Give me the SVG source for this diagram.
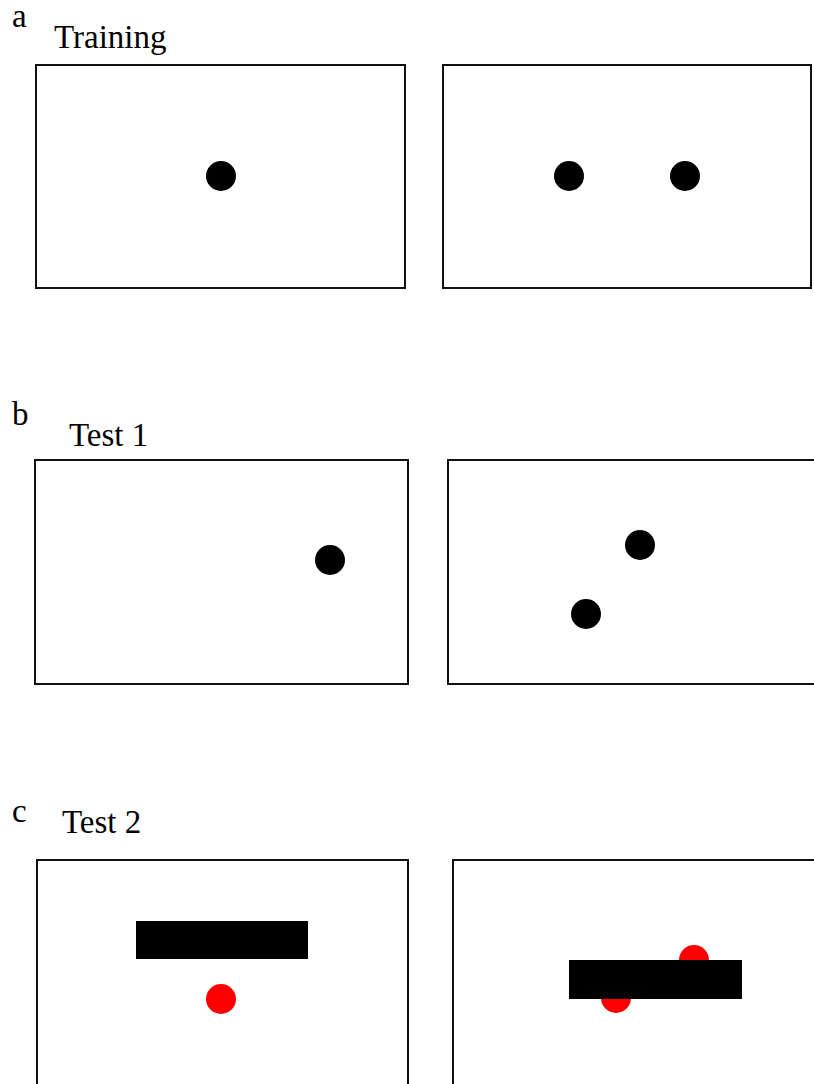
<svg xmlns="http://www.w3.org/2000/svg" width="814" height="1084" viewBox="0 0 814 1084">
<style>
.t{font-family:"Liberation Serif","Times New Roman",serif;font-size:33px;fill:#000}
.box{fill:none;stroke:#111;stroke-width:2}
.dot{fill:#000}
.red{fill:#ff0000}
.bar{fill:#000}
</style>
<rect width="814" height="1084" fill="#fff"/>
<g id="panel-a">
<text class="t" x="12" y="27">a</text>
<text class="t" x="54" y="48">Training</text>
<g id="a1"><rect class="box" x="36" y="65" width="369" height="223"/><circle class="dot" cx="221" cy="176" r="15"/></g>
<g id="a2"><rect class="box" x="443" y="65" width="368" height="223"/><circle class="dot" cx="569" cy="176" r="15"/><circle class="dot" cx="685" cy="176" r="15"/></g>
</g>
<g id="panel-b">
<text class="t" x="12" y="425">b</text>
<text class="t" x="69" y="446">Test 1</text>
<g id="b1"><rect class="box" x="35" y="460" width="373" height="224"/><circle class="dot" cx="330" cy="560" r="15"/></g>
<g id="b2"><rect class="box" x="448" y="460" width="380" height="224"/><circle class="dot" cx="640" cy="545" r="15"/><circle class="dot" cx="586" cy="614" r="15"/></g>
</g>
<g id="panel-c">
<text class="t" x="12" y="822">c</text>
<text class="t" x="62" y="833">Test 2</text>
<g id="c1"><rect class="box" x="37" y="860" width="371" height="240"/><rect class="bar" x="136" y="921" width="172" height="38"/><circle class="red" cx="221" cy="999" r="15"/></g>
<g id="c2"><rect class="box" x="453" y="860" width="380" height="240"/><circle class="red" cx="694" cy="960" r="15"/><circle class="red" cx="616" cy="998" r="15"/><rect class="bar" x="569" y="960" width="173" height="39"/></g>
</g>
</svg>
